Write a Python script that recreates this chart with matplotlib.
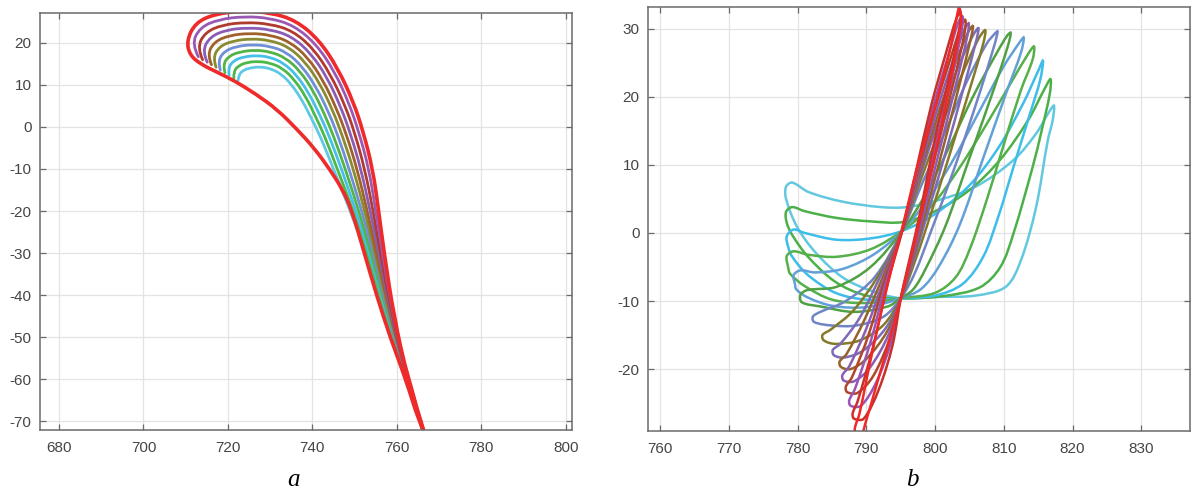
import matplotlib
matplotlib.use("Agg")
import matplotlib.pyplot as plt
import numpy as np
from matplotlib.path import Path
from matplotlib.patches import PathPatch

plt.rcParams['font.family'] = ['Liberation Sans', 'DejaVu Sans']
plt.rcParams['axes.unicode_minus'] = False

# ---- panel a: blade sections (inner cyan -> outer red), control points
a_colors = ['#5ec8e5', '#4db848', '#46c0e8', '#52b347', '#6f8fd8', '#8a8a30',
            '#a0602a', '#8a5cb5', '#b03a2e', '#9a58b5']
a_curves = [
    [(722.4, 11.0), (722.5, 12.3), (723.6, 13.5), (725.5, 14.1), (727.7, 14.3), (730.0, 13.9), (732.5, 12.7),
     (735.0, 10.2), (737.5, 6.5), (739.8, 2.0), (742.0, -2.5), (745.0, -10), (749.0, -20), (752.6, -30),
     (757.3, -45), (762.3, -60), (766.4, -73)],
    [(721.4, 11.6), (721.3, 13.1), (722.5, 14.6), (724.7, 15.4), (727.3, 15.6), (730.0, 15.2), (732.9, 14.0),
     (735.7, 11.3), (738.4, 7.3), (740.8, 2.4), (743.0, -2.4), (745.9, -10), (749.7, -20), (753.0, -30),
     (757.5, -45), (762.3, -60), (766.4, -73)],
    [(720.3, 12.3), (720.0, 13.9), (721.3, 15.8), (723.8, 16.7), (726.9, 17.0), (730.0, 16.6), (733.2, 15.2),
     (736.3, 12.3), (739.2, 8.0), (741.8, 2.8), (744.0, -2.2), (746.9, -10), (750.3, -20), (753.5, -30),
     (757.7, -45), (762.4, -60), (766.4, -73)],
    [(719.3, 12.9), (718.8, 14.8), (720.2, 16.9), (723.0, 17.9), (726.4, 18.3), (730.0, 17.9), (733.6, 16.5),
     (737.0, 13.4), (740.1, 8.8), (742.8, 3.2), (745.0, -2.1), (747.8, -10), (751.0, -20), (753.9, -30),
     (757.9, -45), (762.4, -60), (766.5, -73)],
    [(718.2, 13.5), (717.6, 15.6), (719.1, 18.0), (722.1, 19.2), (726.0, 19.6), (730.0, 19.2), (733.9, 17.8),
     (737.6, 14.4), (740.9, 9.5), (743.8, 3.6), (746.0, -1.9), (748.7, -10), (751.7, -20), (754.4, -30),
     (758.1, -45), (762.4, -60), (766.5, -73)],
    [(717.2, 14.2), (716.4, 16.4), (718.0, 19.2), (721.3, 20.5), (725.6, 21.0), (730.0, 20.6), (734.3, 19.1),
     (738.3, 15.5), (741.8, 10.3), (744.8, 4.0), (747.0, -1.8), (749.7, -10), (752.4, -20), (754.8, -30),
     (758.3, -45), (762.5, -60), (766.5, -73)],
    [(716.1, 14.8), (715.1, 17.2), (716.8, 20.3), (720.4, 21.8), (725.2, 22.3), (730.0, 21.9), (734.6, 20.3),
     (738.9, 16.6), (742.6, 11.0), (745.7, 4.4), (748.0, -1.6), (750.6, -10), (753.0, -20), (755.2, -30),
     (758.5, -45), (762.5, -60), (766.5, -73)],
    [(715.1, 15.4), (713.9, 18.0), (715.7, 21.4), (719.6, 23.1), (724.8, 23.6), (730.0, 23.2), (735.0, 21.6),
     (739.6, 17.6), (743.5, 11.8), (746.7, 4.8), (749.0, -1.5), (751.5, -10), (753.7, -20), (755.7, -30),
     (758.7, -45), (762.5, -60), (766.5, -73)],
    [(714.0, 16.0), (712.7, 18.9), (714.6, 22.5), (718.7, 24.3), (724.3, 24.9), (730.0, 24.5), (735.3, 22.9),
     (740.2, 18.7), (744.3, 12.5), (747.7, 5.2), (750.0, -1.3), (752.4, -10), (754.4, -20), (756.1, -30),
     (758.9, -45), (762.5, -60), (766.6, -73)],
    [(713.0, 16.7), (711.4, 19.7), (713.4, 23.7), (717.9, 25.6), (723.9, 26.3), (730.0, 25.9), (735.7, 24.1),
     (740.9, 19.7), (745.2, 13.3), (748.7, 5.6), (751.0, -1.2), (753.4, -10), (755.0, -20), (756.6, -30),
     (759.1, -45), (762.6, -60), (766.6, -73)],
]
a_red = [(766.6, -73), (762.6, -60), (759.3, -45), (757.0, -30), (755.7, -20), (754.3, -10), (752.0, -1.0),
         (749.7, 6.0), (746.0, 14.0), (741.5, 20.8), (736.0, 25.4), (730.0, 27.2), (723.5, 27.6), (717.0, 26.9),
         (712.3, 24.8), (710.2, 20.5), (711.0, 17.0), (713.8, 14.8), (717.5, 13.0), (721.5, 11.0), (726.5, 7.9),
         (731.6, 4.2), (736.3, -0.5), (740.4, -5.0), (744.2, -10.2), (747.2, -15.0), (749.4, -20.0),
         (752.3, -30.0), (755.2, -40.0), (758.4, -50.0), (762.1, -60.0), (765.2, -70.0), (766.6, -73)]

# ---- panel b: closed loops (points on the curve): nose -> upper branch -> tip -> lower branch
b_colors = ['#62c8df', '#4cb049', '#3dbde9', '#55b04a', '#62a0d8', '#4fa143', '#7085c5', '#857a2a',
            '#7d6bb8', '#96622a', '#8b5eb5', '#b0452a', '#9b55b5', '#c8302a', '#f02828']
b_curves = [
    [(778.3, 5.0), (778.3, 6.8), (779.2, 7.4), (781.6, 6.0), (786.5, 4.6), (792.1, 3.8), (795.9, 3.8),
     (800.4, 4.8), (805.9, 6.8), (811.4, 10.7), (814.7, 14.6), (816.6, 17.8), (817.3, 18.7), (817.1, 16.5),
     (816.4, 13.6), (814.7, 3.8), (812.5, -4.0), (810.3, -7.9), (805.9, -9.2), (800.4, -9.4), (795.0, -9.6),
     (790.4, -8.4), (786.5, -6.5), (782.7, -3.0), (779.9, 0.9)],
    [(778.4, 1.5), (778.3, 3.1), (779.2, 3.8), (781.0, 3.2), (785.7, 2.2), (790.6, 1.7), (795.3, 1.6),
     (800.0, 3.2), (805.0, 6.3), (809.5, 10.8), (813.5, 16.5), (816.0, 21.3), (816.8, 22.6), (816.7, 20.5),
     (815.5, 15.0), (814.2, 9.7), (811.4, -0.1), (809.5, -5.0), (806.5, -8.0), (801.0, -9.3), (795.0, -9.6),
     (790.0, -9.2), (785.5, -7.2), (781.5, -3.5), (779.2, -0.3)],
    [(778.6, -2.0), (778.4, -0.5), (779.4, 0.5), (781.0, 0.0), (785.7, -1.0), (790.6, -0.8), (795.2, 0.3),
     (800.0, 2.8), (805.0, 7.0), (809.2, 12.5), (812.8, 19.0), (815.0, 23.8), (815.7, 25.3), (815.3, 22.5),
     (813.8, 17.5), (811.5, 10.0), (809.2, 2.4), (807.0, -3.5), (804.0, -7.5), (800.0, -9.2), (795.0, -9.6),
     (790.0, -9.8), (785.5, -8.8), (781.5, -6.2), (779.2, -3.5)],
    [(778.6, -5.0), (778.4, -3.4), (779.4, -2.7), (781.5, -3.2), (785.7, -3.5), (790.6, -2.4), (795.2, 0.3),
     (799.5, 4.0), (803.5, 9.5), (807.5, 16.0), (811.0, 22.0), (813.6, 26.4), (814.4, 27.4), (814.2, 25.5),
     (812.5, 21.0), (810.0, 13.0), (807.5, 4.8), (805.0, -2.5), (803.0, -6.5), (800.0, -8.8), (795.0, -9.6),
     (790.0, -10.3), (785.0, -9.8), (781.0, -7.8), (778.9, -6.0)],
    [(779.6, -7.5), (779.4, -6.2), (780.4, -5.5), (782.5, -5.8), (786.5, -5.3), (791.0, -3.2), (795.2, 0.3),
     (799.0, 5.0), (802.5, 10.5), (806.5, 18.0), (810.0, 24.5), (812.3, 28.0), (812.9, 28.7), (812.5, 26.5),
     (810.5, 21.0), (807.0, 11.0), (803.5, 1.0), (800.5, -5.0), (798.0, -8.2), (795.0, -9.6), (790.0, -10.9),
     (785.0, -10.7), (781.5, -9.5), (779.8, -8.3)],
    [(780.6, -10.2), (780.4, -9.1), (781.4, -8.4), (785.7, -7.9), (790.6, -5.0), (795.2, 0.3), (798.5, 5.5),
     (802.0, 12.5), (805.5, 20.0), (809.0, 26.5), (810.5, 29.0), (811.0, 29.4), (810.6, 27.5), (808.5, 21.0),
     (805.0, 11.0), (801.5, 1.0), (798.5, -5.5), (796.8, -8.3), (795.0, -9.6), (793.1, -10.8), (788.2, -11.6),
     (783.3, -10.8)],
    [(782.4, -13.1), (782.2, -12.3), (783.3, -11.6), (787.0, -10.0), (791.2, -6.5), (795.2, 0.3), (798.0, 7.0),
     (801.3, 14.5), (804.5, 22.0), (807.5, 27.8), (808.8, 29.4), (809.1, 29.6), (808.6, 27.5), (806.3, 20.0),
     (802.8, 9.5), (799.5, 0.5), (797.0, -6.0), (795.0, -9.6), (792.5, -12.3), (788.5, -13.6), (785.0, -13.6)],
    [(783.8, -15.8), (783.6, -15.0), (784.8, -14.2), (788.0, -11.5), (791.6, -6.5), (795.2, 0.3), (797.8, 7.5),
     (800.8, 15.5), (803.8, 23.0), (806.3, 28.5), (807.3, 29.8), (807.0, 27.8), (805.0, 21.0), (801.8, 10.5),
     (798.8, 1.0), (796.6, -5.5), (795.0, -9.6), (792.5, -13.5), (789.0, -15.8), (785.5, -16.3)],
    [(785.3, -18.0), (785.1, -17.2), (786.2, -16.3), (789.0, -12.5), (792.2, -6.0), (795.2, 0.3), (797.7, 8.0),
     (800.5, 16.5), (803.2, 24.0), (805.5, 29.0), (806.3, 30.1), (806.0, 28.3), (804.2, 21.5), (801.3, 11.0),
     (798.5, 1.5), (796.4, -5.5), (795.0, -9.6), (792.8, -14.0), (789.5, -17.3), (786.8, -18.3)],
    [(786.3, -19.7), (786.1, -18.9), (787.1, -17.8), (789.6, -13.0), (792.5, -6.2), (795.2, 0.3), (797.6, 8.2),
     (800.3, 17.0), (802.8, 24.5), (804.8, 29.5), (805.5, 30.4), (805.2, 28.6), (803.6, 22.0), (800.9, 11.5),
     (798.3, 1.8), (796.3, -5.5), (795.0, -9.6), (793.0, -14.5), (790.0, -18.5), (787.7, -20.0)],
    [(786.7, -21.7), (786.5, -20.9), (787.5, -19.6), (790.0, -14.0), (792.7, -6.4), (795.2, 0.3), (797.5, 8.4),
     (800.1, 17.5), (802.5, 25.0), (804.3, 30.0), (804.9, 30.8), (804.7, 29.0), (803.2, 22.5), (800.6, 12.0),
     (798.1, 2.0), (796.2, -5.5), (795.0, -9.6), (793.2, -15.0), (790.5, -19.8), (788.2, -21.8)],
    [(787.2, -23.4), (787.0, -22.6), (787.9, -21.2), (790.3, -15.0), (792.8, -6.6), (795.2, 0.3), (797.4, 8.6),
     (799.9, 18.0), (802.2, 25.5), (803.8, 30.5), (804.4, 31.3), (804.3, 29.5), (802.9, 23.0), (800.3, 12.5),
     (797.9, 2.2), (796.1, -5.5), (795.0, -9.6), (793.4, -15.5), (791.0, -21.0), (788.7, -23.5)],
    [(787.7, -25.4), (787.5, -24.6), (788.3, -23.0), (790.6, -16.0), (793.0, -6.8), (795.2, 0.3), (797.3, 8.8),
     (799.7, 18.5), (801.9, 26.0), (803.4, 31.0), (804.0, 31.8), (803.9, 30.0), (802.6, 23.5), (800.1, 13.0),
     (797.8, 2.3), (796.0, -5.5), (795.0, -9.6), (793.6, -16.0), (791.4, -22.0), (789.2, -25.4)],
    [(788.2, -27.3), (788.0, -26.5), (788.7, -24.8), (790.9, -17.0), (793.2, -7.0), (795.2, 0.3), (797.2, 9.0),
     (799.5, 19.0), (801.6, 26.5), (803.1, 31.5), (803.7, 32.4), (803.6, 30.5), (802.3, 24.0), (799.9, 13.5),
     (797.7, 2.4), (795.9, -5.5), (795.0, -9.6), (793.8, -16.5), (791.8, -23.0), (789.6, -27.3)],
    [(788.6, -29.7), (788.3, -28.8), (789.0, -26.5), (790.6, -18.7), (792.6, -9.6), (794.1, -3.5), (795.1, 0.3),
     (797.5, 10.0), (800.3, 19.6), (802.3, 27.5), (803.2, 32.0), (803.5, 33.1), (803.8, 31.5), (803.2, 27.5),
     (801.7, 19.6), (799.8, 10.7), (797.3, 0.0), (795.0, -9.6), (793.2, -16.3), (791.4, -22.6), (789.9, -27.8),
     (789.3, -29.6)],
]


def open_path(pts):
    # quadratic B-spline through the read control points
    pts = np.asarray(pts, dtype=float)
    verts, codes = [pts[0]], [Path.MOVETO]
    for i in range(1, len(pts) - 1):
        end = pts[i + 1] if i == len(pts) - 2 else (pts[i] + pts[i + 1]) / 2
        verts += [pts[i], end]
        codes += [Path.CURVE3, Path.CURVE3]
    return Path(verts, codes)


def closed_path(pts):
    # smooth closed curve passing through the read points (chord-length Catmull-Rom as cubic Beziers)
    p = np.asarray(pts, dtype=float)
    n = len(p)
    d = np.linalg.norm(np.roll(p, -1, axis=0) - p, axis=1)
    tang = [(p[(i + 1) % n] - p[i - 1]) / (d[i - 1] + d[i]) for i in range(n)]
    verts, codes = [p[0]], [Path.MOVETO]
    for i in range(n):
        j = (i + 1) % n
        verts += [p[i] + tang[i] * d[i] / 3, p[j] - tang[j] * d[i] / 3, p[j]]
        codes += [Path.CURVE4] * 3
    return Path(verts, codes)


def style(ax, xticks, yticks):
    ax.set_xticks(xticks)
    ax.set_yticks(yticks)
    ax.grid(True, color='#e3e3e3', lw=0.9)
    ax.set_axisbelow(True)
    for s in ax.spines.values():
        s.set_color('#6a6a6a')
        s.set_linewidth(1.1)
    ax.tick_params(direction='in', length=4, width=0.9, color='#6a6a6a', labelcolor='#454545',
                   labelsize=11, top=True, right=True)
    ax.tick_params(axis='x', pad=8)
    ax.tick_params(axis='y', pad=6)


fig = plt.figure(figsize=(11.92, 4.95), dpi=100)
ax1 = fig.add_axes([0.0336, 0.1313, 0.4463, 0.8424])
ax2 = fig.add_axes([0.5436, 0.1293, 0.4547, 0.8566])

for pts, c in zip(a_curves, a_colors):
    ax1.add_patch(PathPatch(open_path(pts), fill=False, edgecolor=c, lw=2.0, capstyle='round'))
ax1.add_patch(PathPatch(open_path(a_red), fill=False, edgecolor='#ee2a2a', lw=2.6, capstyle='round'))
ax1.set_xlim(675.5, 801.5)
ax1.set_ylim(-72.1, 27.1)
style(ax1, np.arange(680, 801, 20), np.arange(-70, 21, 10))

for pts, c in zip(b_curves, b_colors):
    ax2.add_patch(PathPatch(closed_path(pts), fill=False, edgecolor=c, lw=1.8))
ax2.set_xlim(758.2, 837.1)
ax2.set_ylim(-29.1, 33.2)
style(ax2, np.arange(760, 831, 10), np.arange(-20, 31, 10))

fig.text(293 / 1192, 1 - 480 / 495, 'a', ha='center', va='center', fontsize=18,
         family='Liberation Serif', style='italic')
fig.text(912 / 1192, 1 - 480 / 495, 'b', ha='center', va='center', fontsize=18,
         family='Liberation Serif', style='italic')

fig.savefig('out.png', dpi=100)
